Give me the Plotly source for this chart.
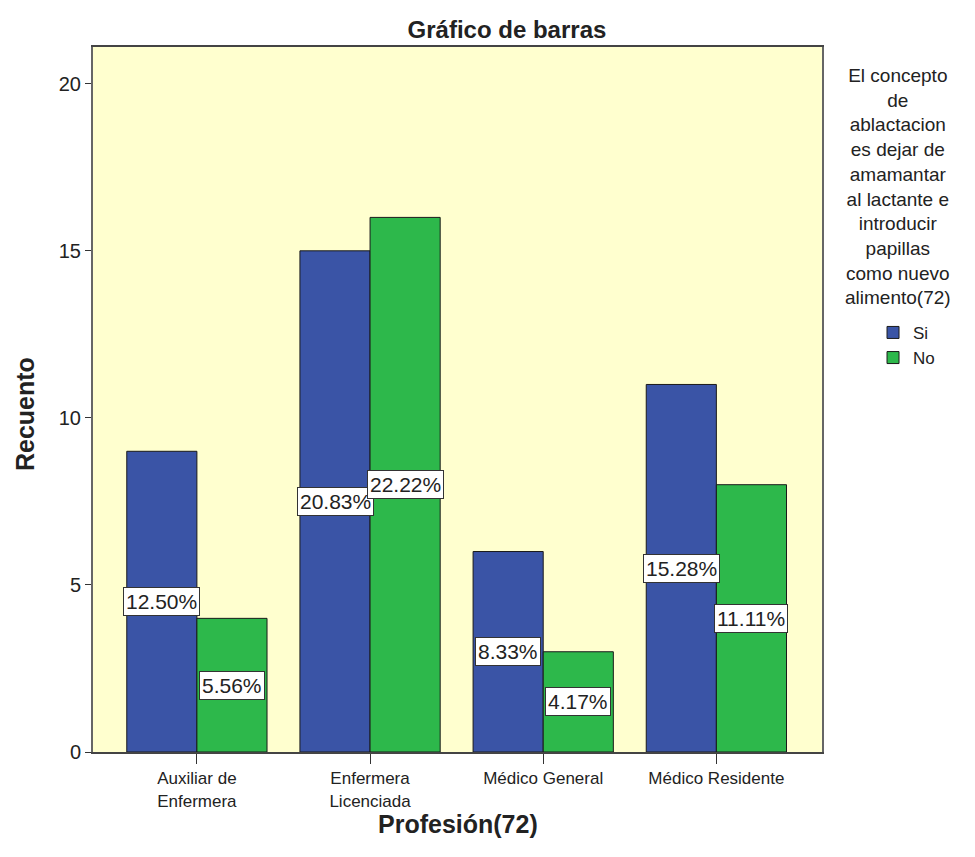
import plotly.graph_objects as go

# Data
profesiones = ["Auxiliar de<br>Enfermera", "Enfermera<br>Licenciada", "Médico General", "Médico Residente"]
si = [9, 15, 6, 11]
no = [4, 16, 3, 8]
total = 72

azul = "#3A54A6"
verde = "#2DB84B"

fig = go.Figure()
fig.add_trace(go.Bar(x=profesiones, y=si, name="Si", marker=dict(color=azul, line=dict(color="#1a1a1a", width=1))))
fig.add_trace(go.Bar(x=profesiones, y=no, name="No", marker=dict(color=verde, line=dict(color="#1a1a1a", width=1))))

# percentage labels at the middle of each bar
for vals, shift in [(si, -35), (no, 35)]:
    for cat, v in zip(profesiones, vals):
        fig.add_annotation(x=cat, y=v / 2, text=f"{v / total * 100:.2f}%", showarrow=False,
                           xshift=shift, bgcolor="white", bordercolor="#333", borderwidth=1, borderpad=2,
                           font=dict(size=21, color="#222"))

# legend title
fig.add_annotation(xref="paper", yref="paper", x=1.104, y=0.978, xanchor="center", yanchor="top",
                   showarrow=False, align="center",
                   text="El concepto<br>de<br>ablactacion<br>es dejar de<br>amamantar<br>al lactante e<br>introducir<br>papillas<br>como nuevo<br>alimento(72)",
                   font=dict(size=19, color="#222"))

# axis titles
fig.add_annotation(xref="paper", yref="paper", x=0.5, y=-0.102, xanchor="center", yanchor="middle",
                   showarrow=False, text="<b>Profesión(72)</b>", font=dict(size=25, color="#222"))
fig.add_annotation(xref="paper", yref="paper", x=-0.094, y=0.48, xanchor="center", yanchor="middle",
                   showarrow=False, text="<b>Recuento</b>", textangle=-90, font=dict(size=25, color="#222"))

fig.update_layout(
    width=967, height=849,
    margin=dict(l=85, r=153, t=39, b=105),
    paper_bgcolor="white", plot_bgcolor="#FFFFCF",
    font=dict(family="Liberation Sans, Arial, sans-serif", color="#222"),
    title=dict(text="<b>Gráfico de barras</b>", x=0.516, xanchor="center", y=0.974, yanchor="middle",
               font=dict(size=24)),
    barmode="group", bargap=0.19, bargroupgap=0,
    showlegend=True,
    legend=dict(x=1.07, y=0.62, xanchor="left", yanchor="top", font=dict(size=17),
                bgcolor="rgba(0,0,0,0)", itemwidth=30, tracegroupgap=0),
)
fig.update_xaxes(range=[-0.6, 3.61], showline=True, linecolor="#444", linewidth=2, mirror=True,
                 ticks="outside", ticklen=10, tickcolor="#333", tickfont=dict(size=17), showgrid=False)
fig.update_yaxes(range=[0, 21.1], tickvals=[0, 5, 10, 15, 20], showline=True, linecolor="#666", linewidth=2,
                 mirror=True, ticks="outside", ticklen=6, tickcolor="#333", tickfont=dict(size=20),
                 showgrid=False, zeroline=False)

fig.write_html("out.html")
